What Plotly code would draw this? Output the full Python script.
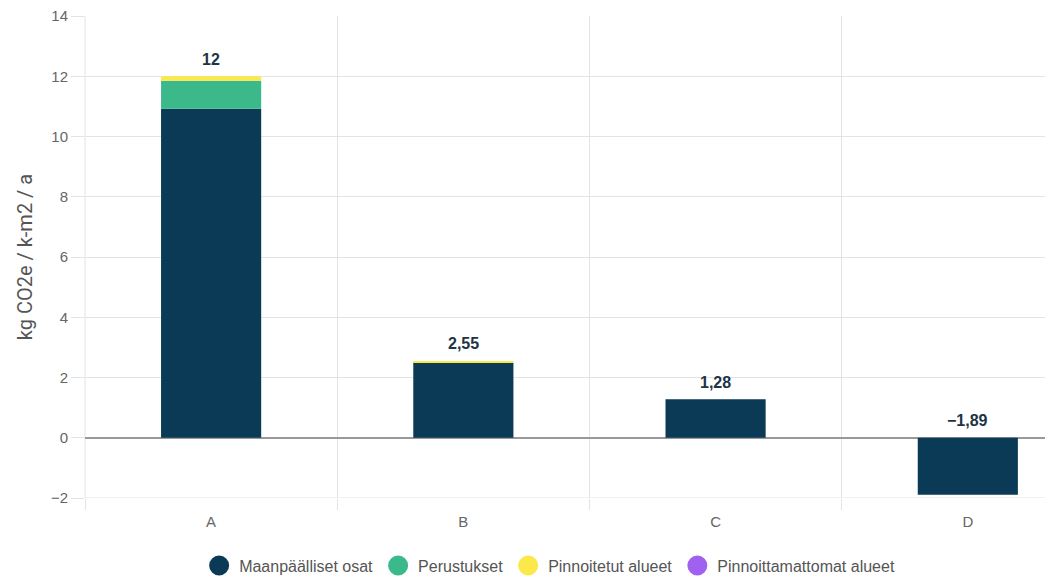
import plotly.graph_objects as go

categories = ["A", "B", "C", "D"]
maanpaalliset = [10.92, 2.50, 1.28, -1.89]
perustukset = [0.93, 0.0, 0.0, 0.0]
pinnoitetut = [0.15, 0.05, 0.0, 0.0]
pinnoittamattomat = [0.0, 0.0, 0.0, 0.0]

series = [
    ("Maanpäälliset osat", maanpaalliset, "#0b3a56"),
    ("Perustukset", perustukset, "#3bb98a"),
    ("Pinnoitetut alueet", pinnoitetut, "#fbe84b"),
    ("Pinnoittamattomat alueet", pinnoittamattomat, "#a060f0"),
]

fig = go.Figure()
for name, vals, col in series:
    fig.add_trace(go.Bar(x=categories, y=vals, name=name, marker_color=col,
                         marker_line_width=0, width=0.397, showlegend=False,
                         hoverinfo="skip"))
for name, vals, col in series:
    fig.add_trace(go.Scatter(x=[categories[0]], y=[None], mode="markers", name=name,
                             marker=dict(color=col, size=16, symbol="circle",
                                         line=dict(color=col, width=4)),
                             showlegend=True, hoverinfo="skip"))

def fmt(v):
    s = f"{v:.2f}".rstrip("0").rstrip(".")
    s = s.replace(".", ",")
    return s.replace("-", "\u2212")

totals = [round(sum(s[1][i] for s in series), 2) for i in range(len(categories))]
for cat, tot in zip(categories, totals):
    fig.add_annotation(x=cat, y=max(tot, 0), text=f"<b>{fmt(tot)}</b>", showarrow=False,
                       yshift=17, font=dict(family="Liberation Sans, Arial", size=16, color="#1d3446"))

# bottom border line at the lower end of the value axis and left border line
fig.add_shape(type="line", xref="paper", yref="y", x0=0, x1=1, y0=-2, y1=-2,
              line=dict(color="#e3e3e3", width=1), layer="below")
fig.add_shape(type="line", xref="paper", yref="paper", x0=0, x1=0, y0=0, y1=1,
              line=dict(color="#e3e3e3", width=1), layer="below")

fig.update_layout(
    barmode="relative",
    width=1045, height=581,
    margin=dict(l=85, r=0, t=16, b=83, autoexpand=False),
    paper_bgcolor="white", plot_bgcolor="white",
    font=dict(family="Liberation Sans, Arial", size=14, color="#666"),
    legend=dict(orientation="h", x=0.484, xanchor="center", y=-0.105, yanchor="top",
                font=dict(size=16, color="#555"), itemsizing="trace",
                itemwidth=30, tracegroupgap=0),
    xaxis=dict(type="category", range=[-0.5, 3.306], tickson="boundaries",
               showgrid=True, gridcolor="#e3e3e3", gridwidth=1,
               ticks="outside", ticklen=11, tickcolor="#e3e3e3",
               showline=False, zeroline=False, ticklabelstandoff=13,
               tickfont=dict(size=15, color="#666")),
    yaxis=dict(range=[-2, 14], dtick=2, showgrid=True, gridcolor="#e3e3e3",
               ticks="outside", ticklen=13, tickcolor="#e3e3e3",
               zeroline=True, zerolinecolor="#999", zerolinewidth=1.5,
               showline=False,
               tickfont=dict(size=15, color="#666"),
               title=dict(text="kg CO2e / k-m2 / a", standoff=12,
                          font=dict(family="Roboto", size=20, color="#555"))),
)

fig.write_html("out.html")
